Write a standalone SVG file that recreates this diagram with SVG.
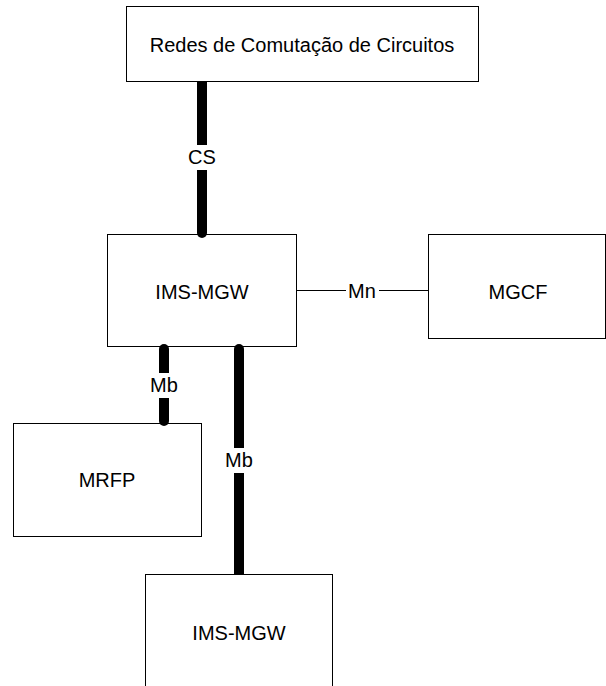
<svg xmlns="http://www.w3.org/2000/svg" width="606" height="686" viewBox="0 0 606 686">
  <style>
    .box { fill: #fff; stroke: #000; stroke-width: 1; }
    .lbl { font-family: "Liberation Sans", Arial, sans-serif; font-size: 20px; fill: #000; text-anchor: middle; dominant-baseline: central; }
    .bus { stroke: #000; stroke-width: 10; fill: none; }
    .rnd { stroke-linecap: round; }
    .thin { stroke: #000; stroke-width: 1; fill: none; }
    .gap { fill: #fff; }
  </style>

  <!-- nodes -->
  <g id="node-csn">
    <rect class="box" x="126.5" y="6.5" width="352" height="75"/>
    <text class="lbl" x="302" y="45">Redes de Comutação de Circuitos</text>
  </g>
  <g id="node-mgw1">
    <rect class="box" x="107.5" y="234.5" width="189" height="112"/>
    <text class="lbl" x="202" y="292">IMS-MGW</text>
  </g>
  <g id="node-mgcf">
    <rect class="box" x="428.5" y="234.5" width="177" height="104"/>
    <text class="lbl" x="518" y="292">MGCF</text>
  </g>
  <g id="node-mrfp">
    <rect class="box" x="13.5" y="423.5" width="188" height="113"/>
    <text class="lbl" x="107" y="480">MRFP</text>
  </g>
  <g id="node-mgw2">
    <rect class="box" x="145.5" y="574.5" width="187" height="130"/>
    <text class="lbl" x="239" y="633">IMS-MGW</text>
  </g>

  <!-- connectors -->
  <g id="connectors">
    <!-- CS -->
    <line class="bus" x1="202" y1="82" x2="202" y2="200"/>
    <line class="bus rnd" x1="202" y1="200" x2="202" y2="233"/>
    <rect class="gap" x="185" y="145" width="34" height="25"/>
    <text class="lbl" x="202" y="157">CS</text>

    <!-- Mn -->
    <line class="thin" x1="297" y1="290.5" x2="428" y2="290.5"/>
    <rect class="gap" x="346" y="280" width="33" height="21"/>
    <text class="lbl" x="362" y="291">Mn</text>

    <!-- Mb to MRFP -->
    <line class="bus rnd" x1="164" y1="349" x2="164" y2="421"/>
    <rect class="gap" x="146" y="373" width="36" height="25"/>
    <text class="lbl" x="164" y="385">Mb</text>

    <!-- Mb to second IMS-MGW -->
    <line class="bus rnd" x1="239" y1="349" x2="239" y2="540"/>
    <line class="bus" x1="239" y1="540" x2="239" y2="574"/>
    <rect class="gap" x="221" y="448" width="36" height="25"/>
    <text class="lbl" x="239" y="460">Mb</text>
  </g>
</svg>
